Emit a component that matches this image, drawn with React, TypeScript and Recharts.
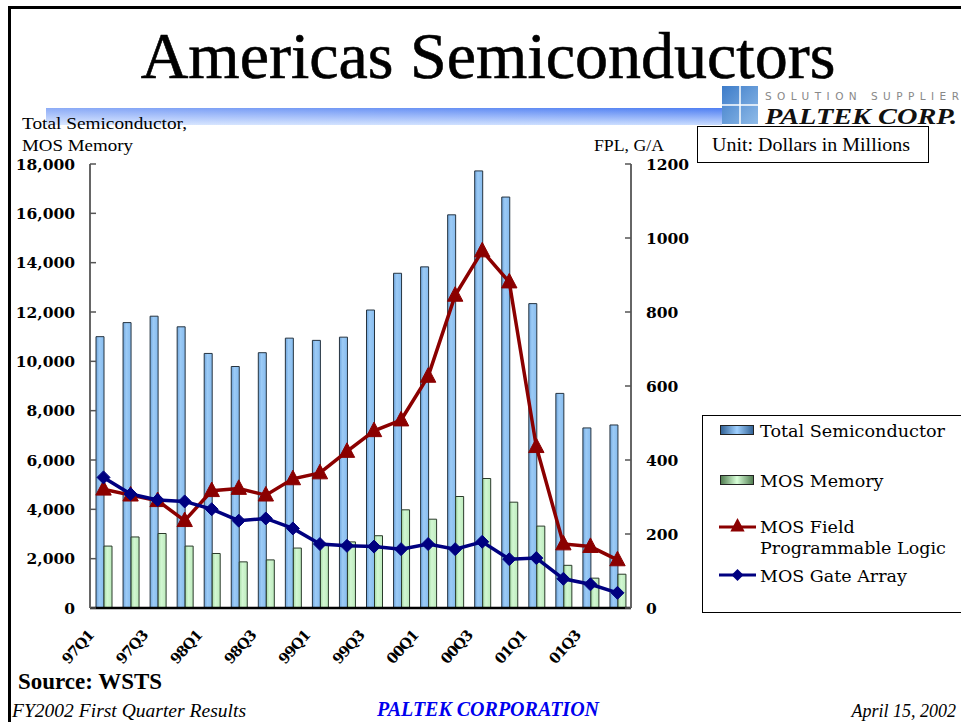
import React from "react";
import { ComposedChart, Bar, Line, XAxis, YAxis } from "recharts";

const quarters = [
  "97Q1", "97Q2", "97Q3", "97Q4",
  "98Q1", "98Q2", "98Q3", "98Q4",
  "99Q1", "99Q2", "99Q3", "99Q4",
  "00Q1", "00Q2", "00Q3", "00Q4",
  "01Q1", "01Q2", "01Q3", "01Q4",
];
const totalSemiconductor = [
  11000, 11570, 11830, 11400, 10320, 9790, 10350, 10940, 10850, 10980,
  12080, 13570, 13830, 15940, 17720, 16660, 12340, 8700, 7300, 7420,
];
const mosMemory = [
  2510, 2880, 3020, 2510, 2210, 1870, 1950, 2430, 2600, 2680,
  2930, 3980, 3600, 4520, 5250, 4290, 3320, 1730, 1210, 1370,
];
const mosFpl = [
  321, 305, 290, 236, 317, 323, 305, 349, 365, 423,
  479, 508, 626, 845, 965, 881, 436, 173, 166, 130,
];
const mosGateArray = [
  353, 308, 292, 288, 267, 236, 242, 215, 173, 168,
  166, 159, 173, 159, 179, 132, 135, 79, 64, 41,
];
const leftTicks = [0, 2000, 4000, 6000, 8000, 10000, 12000, 14000, 16000, 18000];
const rightTicks = [0, 200, 400, 600, 800, 1000, 1200];
const seriesNames = [
  "Total Semiconductor",
  "MOS Memory",
  "MOS Field Programmable Logic",
  "MOS Gate Array",
];

const data = quarters.map((q, i) => ({
  q,
  total: totalSemiconductor[i],
  memory: mosMemory[i],
  fpl: mosFpl[i],
  gate: mosGateArray[i],
}));

const NUM_FONT = "'DejaVu Serif', serif";
const TIMES = "'Liberation Serif', 'Times New Roman', serif";
const RED = "#8b0000";
const NAVY = "#000080";

const LeftTick = (props: any) => {
  const { x, y, payload } = props;
  return (
    <g>
      <line x1={x} x2={x + 6} y1={y} y2={y} stroke="#555" strokeWidth={1.5} />
      <text x={x - 15} y={y} dy={5.5} textAnchor="end" fontFamily={NUM_FONT} fontWeight="bold" fontSize={15.5} fill="#000">
        {Number(payload.value).toLocaleString("en-US")}
      </text>
    </g>
  );
};

const RightTick = (props: any) => {
  const { x, y, payload } = props;
  return (
    <g>
      <line x1={x - 6} x2={x} y1={y} y2={y} stroke="#555" strokeWidth={1.5} />
      <text x={x + 15} y={y} dy={5.5} textAnchor="start" fontFamily={NUM_FONT} fontWeight="bold" fontSize={15.5} fill="#000">
        {payload.value}
      </text>
    </g>
  );
};

const XTick = (props: any) => {
  const { x, y, payload } = props;
  const ax = x - 9;
  const ay = y + 28;
  return (
    <g>
      <text
        x={ax}
        y={ay}
        transform={`rotate(-48 ${ax} ${ay})`}
        textAnchor="end"
        fontFamily={NUM_FONT}
        fontWeight="bold"
        fontSize={14.5}
        fill="#000"
        letterSpacing={-1}
      >
        {payload.value}
      </text>
    </g>
  );
};

const triangle = (cx: number, cy: number, s: number) =>
  `M${cx},${cy - s * 0.62} L${cx + s * 0.55},${cy + s * 0.42} L${cx - s * 0.55},${cy + s * 0.42} Z`;
const diamond = (cx: number, cy: number, s: number) =>
  `M${cx},${cy - s / 2} L${cx + s / 2},${cy} L${cx},${cy + s / 2} L${cx - s / 2},${cy} Z`;

const TriDot = (props: any) => {
  const { cx, cy, index } = props;
  if (cx == null || cy == null) return <g key={`t-${index}`} />;
  return <path key={`t-${index}`} d={triangle(cx, cy, 14)} fill={RED} stroke={RED} strokeWidth={1} />;
};
const DiaDot = (props: any) => {
  const { cx, cy, index } = props;
  if (cx == null || cy == null) return <g key={`d-${index}`} />;
  return <path key={`d-${index}`} d={diamond(cx, cy, 13)} fill={NAVY} stroke={NAVY} strokeWidth={1} />;
};

export default function App() {
  return (
    <div
      style={{
        position: "absolute",
        left: 0,
        top: 0,
        width: 961,
        height: 722,
        overflow: "hidden",
        background: "#fff",
      }}
    >
      {/* decorations */}
      <svg width={961} height={722} style={{ position: "absolute", left: 0, top: 0 }}>
        <defs>
          <linearGradient id="bandGrad" x1="0" y1="0" x2="0" y2="1">
            <stop offset="0%" stopColor="#4f7ff2" />
            <stop offset="100%" stopColor="#c9dcff" />
          </linearGradient>
          <linearGradient id="bandGradH" x1="0" y1="0" x2="1" y2="0">
            <stop offset="0%" stopColor="#ffffff" stopOpacity={0.35} />
            <stop offset="100%" stopColor="#ffffff" stopOpacity={0} />
          </linearGradient>
          <linearGradient id="logoGrad" x1="0" y1="0" x2="1" y2="1">
            <stop offset="0%" stopColor="#3d7cc9" />
            <stop offset="100%" stopColor="#8fbbe8" />
          </linearGradient>
        </defs>
        {/* frame */}
        <line x1={9.5} y1={6} x2={9.5} y2={722} stroke="#000" strokeWidth={3} />
        <line x1={8} y1={7.5} x2={961} y2={7.5} stroke="#000" strokeWidth={3} />
        {/* title */}
        <text x={488} y={78} textAnchor="middle" fontFamily={TIMES} fontSize={66} fill="#000" stroke="#000" strokeWidth={0.6}>
          Americas Semiconductors
        </text>
        {/* blue band */}
        <rect x={46} y={108} width={676} height={17} fill="url(#bandGrad)" />
        <rect x={46} y={108} width={676} height={17} fill="url(#bandGradH)" />
        {/* logo */}
        <rect x={722} y={86} width={36} height={38} fill="url(#logoGrad)" />
        <line x1={722} y1={105} x2={758} y2={105} stroke="#fff" strokeWidth={1.5} />
        <line x1={740} y1={86} x2={740} y2={124} stroke="#fff" strokeWidth={1.5} />
        <text x={765} y={100} fontFamily="'DejaVu Sans', sans-serif" fontSize={10.5} fill="#888" textLength={194} lengthAdjust="spacing">
          SOLUTION SUPPLIER
        </text>
        <text x={765} y={124} fontFamily={TIMES} fontStyle="italic" fontWeight="bold" fontSize={24} fill="#111" textLength={192} lengthAdjust="spacingAndGlyphs">
          PALTEK CORP.
        </text>
        {/* axis titles */}
        <text x={22} y={129} fontFamily={TIMES} fontSize={17} fill="#000" textLength={165} lengthAdjust="spacingAndGlyphs">
          Total Semiconductor,
        </text>
        <text x={22} y={151} fontFamily={TIMES} fontSize={17} fill="#000" textLength={111} lengthAdjust="spacingAndGlyphs">
          MOS Memory
        </text>
        <text x={594} y={151} fontFamily={TIMES} fontSize={17} fill="#000" textLength={70} lengthAdjust="spacingAndGlyphs">
          FPL, G/A
        </text>
        {/* unit box */}
        <rect x={697.5} y={126.5} width={231} height={36} fill="#fff" stroke="#000" strokeWidth={1} />
        <text x={712} y={151} fontFamily={TIMES} fontSize={18.5} fill="#000" textLength={198} lengthAdjust="spacingAndGlyphs">
          Unit: Dollars in Millions
        </text>
        {/* footer */}
        <text x={18} y={689} fontFamily={TIMES} fontWeight="bold" fontSize={23} fill="#000" textLength={144} lengthAdjust="spacingAndGlyphs">
          Source: WSTS
        </text>
        <text x={12} y={717} fontFamily={TIMES} fontStyle="italic" fontSize={18} fill="#000" textLength={234} lengthAdjust="spacingAndGlyphs">
          FY2002 First Quarter Results
        </text>
        <text x={488} y={716} textAnchor="middle" fontFamily={TIMES} fontStyle="italic" fontWeight="bold" fontSize={20} fill="#0000ee">
          PALTEK CORPORATION
        </text>
        <text x={956} y={717} textAnchor="end" fontFamily={TIMES} fontStyle="italic" fontSize={18} fill="#000">
          April 15, 2002
        </text>
      </svg>

      <div style={{ position: "absolute", left: 0, top: 0 }}>
        <ComposedChart
          width={961}
          height={722}
          data={data}
          margin={{ top: 164, right: 270, bottom: 54, left: 0 }}
          barGap={0}
          barCategoryGap={0}
        >
          <defs>
            <linearGradient id="blueBar" x1="0" y1="0" x2="1" y2="0">
              <stop offset="0%" stopColor="#6fa5dc" />
              <stop offset="40%" stopColor="#9ccbf6" />
              <stop offset="100%" stopColor="#86bbee" />
            </linearGradient>
            <linearGradient id="greenBar" x1="0" y1="0" x2="1" y2="0">
              <stop offset="0%" stopColor="#a8dca8" />
              <stop offset="40%" stopColor="#d2f7d2" />
              <stop offset="100%" stopColor="#bcebbc" />
            </linearGradient>
          </defs>
          <XAxis
            dataKey="q"
            interval={1}
            tickSize={0}
            tickMargin={0}
            tick={<XTick />}
            axisLine={{ stroke: "#000", strokeWidth: 2.5 }}
            height={60}
          />
          <YAxis
            yAxisId="left"
            orientation="left"
            width={90}
            domain={[0, 18000]}
            ticks={leftTicks}
            interval={0}
            tickSize={0}
            tickMargin={0}
            tick={<LeftTick />}
            axisLine={{ stroke: "#666", strokeWidth: 2 }}
          />
          <YAxis
            yAxisId="right"
            orientation="right"
            width={60}
            domain={[0, 1200]}
            ticks={rightTicks}
            interval={0}
            tickSize={0}
            tickMargin={0}
            tick={<RightTick />}
            axisLine={{ stroke: "#666", strokeWidth: 2 }}
          />
          <Bar
            yAxisId="left"
            dataKey="total"
            name={seriesNames[0]}
            barSize={8}
            fill="url(#blueBar)"
            stroke="#263440"
            strokeWidth={1}
            isAnimationActive={false}
          />
          <Bar
            yAxisId="left"
            dataKey="memory"
            name={seriesNames[1]}
            barSize={8}
            fill="url(#greenBar)"
            stroke="#2a3a2a"
            strokeWidth={1}
            isAnimationActive={false}
          />
          <Line
            yAxisId="right"
            dataKey="fpl"
            name={seriesNames[2]}
            stroke={RED}
            strokeWidth={3.5}
            dot={TriDot}
            activeDot={false}
            isAnimationActive={false}
          />
          <Line
            yAxisId="right"
            dataKey="gate"
            name={seriesNames[3]}
            stroke={NAVY}
            strokeWidth={3.5}
            dot={DiaDot}
            activeDot={false}
            isAnimationActive={false}
          />
        </ComposedChart>
      </div>

      {/* legend */}
      <svg width={270} height={198} style={{ position: "absolute", left: 702, top: 415 }}>
        <defs>
          <linearGradient id="legBlue" x1="0" y1="0" x2="1" y2="0">
            <stop offset="0%" stopColor="#2f5f93" />
            <stop offset="50%" stopColor="#9fd0ff" />
            <stop offset="100%" stopColor="#2f5f93" />
          </linearGradient>
          <linearGradient id="legGreen" x1="0" y1="0" x2="1" y2="0">
            <stop offset="0%" stopColor="#4e7a4e" />
            <stop offset="50%" stopColor="#d8ffd8" />
            <stop offset="100%" stopColor="#4e7a4e" />
          </linearGradient>
        </defs>
        <rect x={0.5} y={0.5} width={300} height={197} fill="#fff" stroke="#000" strokeWidth={1} />
        <rect x={18.5} y={10.5} width={33} height={9} fill="url(#legBlue)" stroke="#222" strokeWidth={1} />
        <text x={58} y={22} fontFamily={NUM_FONT} fontSize={17.5} fill="#000" textLength={185} lengthAdjust="spacingAndGlyphs">
          {seriesNames[0]}
        </text>
        <rect x={18.5} y={60.5} width={33} height={9} fill="url(#legGreen)" stroke="#222" strokeWidth={1} />
        <text x={58} y={72} fontFamily={NUM_FONT} fontSize={17.5} fill="#000">
          {seriesNames[1]}
        </text>
        <line x1={17} x2={54} y1={112} y2={112} stroke={RED} strokeWidth={3} />
        <path d={triangle(35.5, 111, 13)} fill={RED} />
        <text x={58} y={118} fontFamily={NUM_FONT} fontSize={17.5} fill="#000">
          MOS Field
        </text>
        <text x={58} y={139} fontFamily={NUM_FONT} fontSize={17.5} fill="#000">
          Programmable Logic
        </text>
        <line x1={17} x2={54} y1={160} y2={160} stroke={NAVY} strokeWidth={3} />
        <path d={diamond(35.5, 160, 12)} fill={NAVY} />
        <text x={58} y={167} fontFamily={NUM_FONT} fontSize={17.5} fill="#000">
          {seriesNames[3]}
        </text>
      </svg>
    </div>
  );
}
